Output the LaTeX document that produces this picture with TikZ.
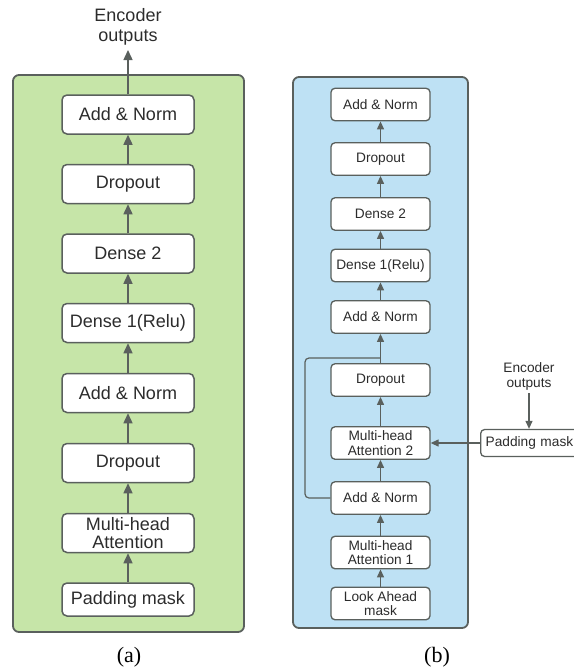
\documentclass[tikz,border=0pt]{standalone}
\usepackage{fontspec}
\setmainfont{Liberation Sans}
\newfontfamily\capfont{Liberation Serif}
\usetikzlibrary{arrows.meta}
\definecolor{panelgreen}{HTML}{C6E5A8}
\definecolor{panelblue}{HTML}{BEE1F4}
\definecolor{edge}{HTML}{5A605D}
\definecolor{txt}{HTML}{2C2C2C}
\begin{document}
\begin{tikzpicture}[x=1pt,y=-1pt,
  panel/.style={draw=edge, line width=1.8pt, rounded corners=6pt},
  blockA/.style={draw=edge, line width=1.5pt, fill=white, rounded corners=5pt,
    minimum width=132pt, minimum height=39pt, inner sep=0pt, align=center,
    text=txt, font=\fontsize{18}{18}\selectfont},
  blockB/.style={draw=edge, line width=1.3pt, fill=white, rounded corners=4pt,
    minimum width=99pt, minimum height=32.5pt, inner sep=0pt, align=center,
    text=txt, font=\fontsize{13.7}{14.5}\selectfont},
  labA/.style={align=center, text=txt, font=\fontsize{18}{20}\selectfont},
  labB/.style={align=center, text=txt, font=\fontsize{13.7}{15}\selectfont},
  flowA/.style={draw=edge, line width=1.4pt, -{Triangle[length=10pt,width=9pt]}},
  flowB/.style={draw=edge, line width=1.2pt, -{Triangle[length=8pt,width=7pt]}},
  caption/.style={text=black, font=\capfont\fontsize{22}{22}\selectfont},
]
\useasboundingbox (0,0) rectangle (573,672);

% ---------- (a) encoder ----------
\draw[panel, fill=panelgreen] (13,75) rectangle (244,632);
\node[blockA] (a8) at (128,114.5) {Add \& Norm};
\node[blockA] (a7) at (128,184) {Dropout};
\node[blockA] (a6) at (128,253.5) {Dense 2};
\node[blockA] (a5) at (128,323) {Dense 1(Relu)};
\node[blockA] (a4) at (128,393) {Add \& Norm};
\node[blockA] (a3) at (128,463) {Dropout};
\node[blockA] (a2) at (128,533) {Multi-head\\Attention};
\node[blockA, minimum height=33pt] (a1) at (128,599.5) {Padding mask};
\node[labA] (aout) at (128,27) {Encoder\\outputs};
\coordinate (aend) at (128,50);

\draw[flowA] (a1) -- (a2);
\draw[flowA] (a2) -- (a3);
\draw[flowA] (a3) -- (a4);
\draw[flowA] (a4) -- (a5);
\draw[flowA] (a5) -- (a6);
\draw[flowA] (a6) -- (a7);
\draw[flowA] (a7) -- (a8);
\draw[flowA] (a8) -- (aend);

\node[caption] (capa) at (129,657) {(a)};

% ---------- (b) decoder ----------
\draw[panel, fill=panelblue] (293,77) rectangle (468,628);
\node[blockB] (b10) at (380.5,104.5) {Add \& Norm};
\node[blockB] (b9) at (380.5,159) {Dropout};
\node[blockB] (b8) at (380.5,214) {Dense 2};
\node[blockB] (b7) at (380.5,265.5) {Dense 1(Relu)};
\node[blockB] (b6) at (380.5,317) {Add \& Norm};
\node[blockB] (b5) at (380.5,380) {Dropout};
\node[blockB] (b4) at (380.5,443) {Multi-head\\Attention 2};
\node[blockB] (b3) at (380.5,498) {Add \& Norm};
\node[blockB] (b2) at (380.5,552.5) {Multi-head\\Attention 1};
\node[blockB] (b1) at (380.5,603.5) {Look Ahead\\mask};

\draw[flowB] (b1) -- (b2);
\draw[flowB] (b2) -- (b3);
\draw[flowB] (b3) -- (b4);
\draw[flowB] (b4) -- (b5);
\draw[flowB] (b5) -- (b6);
\draw[flowB] (b6) -- (b7);
\draw[flowB] (b7) -- (b8);
\draw[flowB] (b8) -- (b9);
\draw[flowB] (b9) -- (b10);

% residual connection around the second attention block
\coordinate (skip) at (305,358);
\coordinate (join) at (b5.north |- skip);
\draw[draw=edge, line width=1.2pt, rounded corners=4pt] (b3.west) -| (skip) -- (join);

% encoder outputs feeding the second attention block
\node[blockB, anchor=west, minimum height=27pt, inner xsep=5pt,
      text width=98pt, align=left] (pm) at (480,443) {Padding mask};
\node[labB] (bout) at (529,376) {Encoder\\outputs};
\draw[flowB] (bout) -- (bout |- pm.north);
\draw[flowB] (pm) -- (b4);

\node[caption] (capb) at (437,657) {(b)};
\end{tikzpicture}
\end{document}
